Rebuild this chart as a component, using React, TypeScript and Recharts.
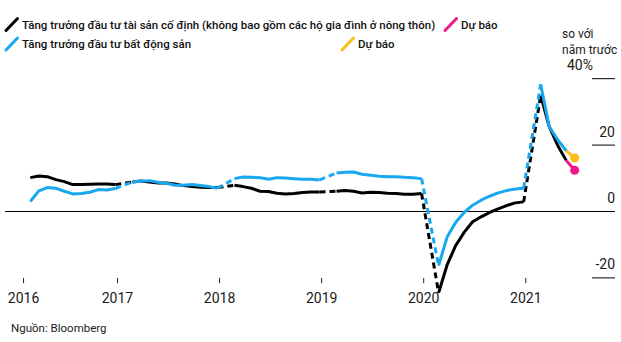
import React from 'react';
import { LineChart, Line, XAxis, YAxis, ReferenceLine, ReferenceDot } from 'recharts';

const FONT = 'Roboto, "Noto Sans", sans-serif';

const BLACK = '#000000';
const BLUE = '#19a8f0';
const PINK = '#f2168b';
const YELLOW = '#fbbf1b';

const years = [2016, 2017, 2018, 2019, 2020, 2021];
const yearTicks = [2016.08, 2017, 2018, 2019, 2020, 2021]; // first tick nudged so its label clears the edge
const valueTicks = [-20, 0, 20, 40];

// YTD growth (%), Feb..Dec of each year – January is reported together with February
const fixedAssetGrowth = [
  [10.2, 10.7, 10.5, 9.6, 9.0, 8.1, 8.1, 8.2, 8.3, 8.3, 8.1],
  [8.9, 9.2, 8.9, 8.6, 8.6, 8.3, 7.8, 7.5, 7.3, 7.2, 7.2],
  [7.9, 7.5, 7.0, 6.1, 6.0, 5.5, 5.3, 5.4, 5.7, 5.9, 5.9],
  [6.1, 6.3, 6.1, 5.6, 5.8, 5.7, 5.5, 5.4, 5.2, 5.2, 5.4],
  [-24.5, -16.1, -10.3, -6.3, -3.1, -1.6, -0.3, 0.8, 1.8, 2.6, 2.9],
  [35.0, 25.6, 19.9, 15.4],
];
const realEstateGrowth = [
  [3.0, 6.2, 7.2, 7.0, 6.1, 5.3, 5.4, 5.8, 6.6, 6.5, 6.9],
  [8.9, 9.1, 9.3, 8.8, 8.5, 7.9, 7.9, 8.1, 7.8, 7.5, 7.0],
  [9.9, 10.4, 10.3, 10.2, 9.7, 10.2, 10.1, 9.9, 9.7, 9.7, 9.5],
  [11.6, 11.8, 11.9, 11.2, 10.9, 10.6, 10.5, 10.5, 10.3, 10.2, 9.9],
  [-16.3, -7.7, -3.3, -0.3, 1.9, 3.4, 4.6, 5.6, 6.3, 6.8, 7.0],
  [38.3, 25.6, 21.6, 18.3],
];

// June 2021 forecasts
const forecastMonth = 4; // index from Feb
const fixedAssetForecast = 12.4;
const realEstateForecast = 16.1;

type Pt = { x: number; y: number };

// month index 0 = Feb, points sit late in the month
const toX = (year: number, k: number) => year + (k + 1.75) / 12;

const segmentsOf = (series: number[][]): Pt[][] =>
  series.map((vals, i) => vals.map((v, k) => ({ x: toX(years[i], k), y: v })));

// dashed links over the missing January of each year
const bridgesOf = (segs: Pt[][]): Pt[][] =>
  segs.slice(1).map((seg, i) => [segs[i][segs[i].length - 1], seg[0]]);

const faSegs = segmentsOf(fixedAssetGrowth);
const reSegs = segmentsOf(realEstateGrowth);
const faBridges = bridgesOf(faSegs);
const reBridges = bridgesOf(reSegs);

const lastOf = (segs: Pt[][]) => segs[segs.length - 1][segs[segs.length - 1].length - 1];
const forecastX = toX(2021, forecastMonth);
const faForecast: Pt[] = [lastOf(faSegs), { x: forecastX, y: fixedAssetForecast }];
const reForecast: Pt[] = [lastOf(reSegs), { x: forecastX, y: realEstateForecast }];

const XTick = ({ x, y, payload }: any) => (
  <text x={x} y={y + 4.7} textAnchor="middle" fontSize={14} fontFamily={FONT} fill="#1a1a1a">
    {Math.floor(payload.value)}
  </text>
);

const YTick = ({ x, y, payload }: any) => {
  const top = payload.value === 40;
  return (
    <g>
      <line x1={x - 23} x2={x} y1={y} y2={y} stroke={BLACK} strokeWidth={1} />
      <text
        x={top ? x - 22 : x}
        y={y - 8.5}
        textAnchor="end"
        fontSize={14}
        fontFamily={FONT}
        fill="#1a1a1a"
      >
        {top ? `${payload.value}%` : payload.value}
      </text>
    </g>
  );
};

const lineProps = {
  dataKey: 'y',
  type: 'linear' as const,
  strokeWidth: 3,
  dot: false,
  activeDot: false,
  isAnimationActive: false,
  strokeLinejoin: 'round' as const,
};

const legendRows = [
  { color: BLACK, label: 'Tăng trưởng đầu tư tài sản cố định (không bao gồm các hộ gia đình ở nông thôn)', x: 6, y: 28.5 },
  { color: BLUE, label: 'Tăng trưởng đầu tư bất động sản', x: 6, y: 48 },
  { color: PINK, label: 'Dự báo', x: 445, y: 28.5 },
  { color: YELLOW, label: 'Dự báo', x: 342, y: 48 },
];

export default function App() {
  return (
    <div style={{ position: 'absolute', left: 0, top: 0, width: 621, height: 342, background: '#fff' }}>
      <LineChart width={621} height={342} margin={{ top: 65.42, right: 0, bottom: 24.18, left: 5 }}>
        <XAxis
          dataKey="x"
          type="number"
          domain={[2015.898, 2021.874]}
          ticks={yearTicks}
          interval={0}
          height={20}
          tickSize={0}
          tickMargin={0}
          axisLine={false}
          tickLine={false}
          tick={<XTick />}
        />
        <YAxis
          orientation="right"
          type="number"
          domain={[-26, 44]}
          ticks={valueTicks}
          interval={0}
          width={6}
          tickSize={0}
          tickMargin={0}
          axisLine={false}
          tickLine={false}
          tick={<YTick />}
        />
        <ReferenceLine y={0} stroke={BLACK} strokeWidth={1} />
        {yearTicks.map((t) => (
          <ReferenceLine
            key={`tick${t}`}
            segment={[{ x: t, y: -20 }, { x: t, y: -21.6 }]}
            stroke="#222"
            strokeWidth={1}
            ifOverflow="visible"
          />
        ))}

        {faSegs.map((d, i) => (
          <Line key={`fa${i}`} data={d} stroke={BLACK} {...lineProps} />
        ))}
        {faBridges.map((d, i) => (
          <Line key={`fab${i}`} data={d} stroke={BLACK} strokeDasharray="6 4" {...lineProps} />
        ))}
        {reSegs.map((d, i) => (
          <Line key={`re${i}`} data={d} stroke={BLUE} {...lineProps} />
        ))}
        {reBridges.map((d, i) => (
          <Line key={`reb${i}`} data={d} stroke={BLUE} strokeDasharray="6 4" {...lineProps} />
        ))}

        <Line data={faForecast} stroke={PINK} {...lineProps} />
        <Line data={reForecast} stroke={YELLOW} {...lineProps} />
        <ReferenceDot x={forecastX} y={fixedAssetForecast} r={4.5} fill={PINK} stroke="none" />
        <ReferenceDot x={forecastX} y={realEstateForecast} r={4.5} fill={YELLOW} stroke="none" />
      </LineChart>

      <svg
        width={621}
        height={342}
        style={{ position: 'absolute', left: 0, top: 0, pointerEvents: 'none' }}
      >
        {legendRows.map((r) => (
          <g key={`${r.label}${r.x}`}>
            <line
              x1={r.x}
              y1={r.y + 2}
              x2={r.x + 11.5}
              y2={r.y - 10}
              stroke={r.color}
              strokeWidth={3}
              strokeLinecap="round"
            />
            <text x={r.x + 16} y={r.y} fontSize={11.5} fontWeight={500} fontFamily={FONT} fill="#111">
              {r.label}
            </text>
          </g>
        ))}
        <text x={562} y={38.3} fontSize={12} fontFamily={FONT} fill="#1a1a1a">so với</text>
        <text x={562} y={54.3} fontSize={12} fontFamily={FONT} fill="#1a1a1a">năm trước</text>
        <text x={11} y={332} fontSize={11.5} fontFamily={FONT} fill="#222">Nguồn: Bloomberg</text>
      </svg>
    </div>
  );
}
